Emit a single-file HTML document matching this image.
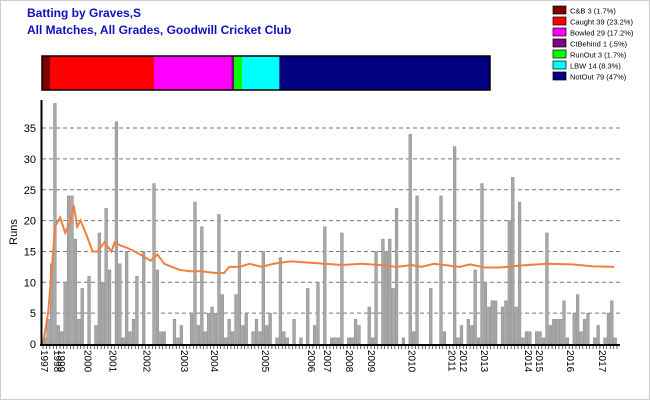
<!DOCTYPE html>
<html><head><meta charset="utf-8"><style>
body{margin:0;background:#fff;font-family:"Liberation Sans",sans-serif}
#c{position:relative;width:650px;height:400px;overflow:hidden}
</style></head><body>
<div id="c">
<svg id="s" width="650" height="400" xmlns="http://www.w3.org/2000/svg" font-family="Liberation Sans, sans-serif">
<rect x="0.5" y="0.5" width="649" height="399" fill="#fff" stroke="#ccc"/>
<text x="27" y="17" font-size="12" font-weight="bold" fill="#1010c0">Batting by Graves,S</text>
<text x="27" y="34" font-size="12" font-weight="bold" fill="#1010c0">All Matches, All Grades, Goodwill Cricket Club</text>
<g id="dism"></g>
<g id="leg"></g>
<g id="grid"></g>
<g id="bars"></g>
<g id="avg"></g>
<g id="axes"></g>
<text transform="translate(17,232) rotate(-90)" text-anchor="middle" font-size="11">Runs</text>
</svg></div>
<script>
const runs=[1,4,13,39,3,2,10,24,24,17,4,9,0,11,0,3,18,10,22,12,0,36,13,1,15,2,4,
11,0,15,0,0,26,12,2,2,0,0,4,1,3,0,0,5,23,3,19,2,5,6,5,21,8,1,4,
2,8,15,3,5,0,2,4,2,15,3,5,0,1,14,2,1,0,4,0,1,0,9,0,3,10,0,19,0,
1,1,1,18,0,1,1,4,3,0,0,6,1,15,0,17,15,17,9,22,0,1,0,34,2,24,0,0,0,
9,0,0,24,2,0,0,32,1,3,0,4,3,12,1,26,10,6,7,7,0,6,7,20,27,6,23,1,2,
2,0,2,2,1,18,3,4,4,4,7,1,0,5,8,2,4,5,0,1,3,0,1,5,7,1];
const avgIdx=[0,1.5,2.7,3.5,5,6.5,8,9,10,11,12.5,14.5,16,18,20,21,22.5,25,28.5,31.5,33.5,35.5,40,43,46,50.5,53,54.5,57.5,60.5,64,67.5,72.5,82.5,87.5,93.5,100.5,103.5,107.9,110.8,114.4,120.5,122,125,129.3,133.7,139.5,147.5,154.8,160.7,167.2];
const avgVal=[0,5,13,19,20.5,18,20,22.5,19,20,18,15,15,16.5,15,16.5,16,15.5,14.5,13.5,14.5,13,12,11.8,11.8,11.5,11.5,12.5,12.5,13,12.5,13,13.4,13,12.8,13,12.7,12.5,12.8,12.5,13,12.6,12.5,12.9,12.4,12.4,12.7,13,12.9,12.6,12.5];
const yTicks=[0,5,10,15,20,25,30,35];
const years=["1997","1998","1999","2000","2001","2002","2003","2004","2005","2006","2007","2008","2009","2010","2011","2012","2013","2014","2015","2016","2017"];
const yearIdx=[0,3.8,5,12.8,20,30,41,49.8,64.7,78.2,82.8,89.3,95.7,107.5,119.2,122.7,128.8,141.7,144.9,154,163.3];
const dismLabels=["C&B 3 (1.7%)","Caught 39 (23.2%)","Bowled 29 (17.2%)","CtBehind 1 (.5%)","RunOut 3 (1.7%)","LBW 14 (8.3%)","NotOut 79 (47%)"];
const dismCounts=[3,39,29,1,3,14,79];
const dismColors=["#800000","#ff0000","#ff00ff","#800080","#00ff00","#00ffff","#000080"];
const NS="http://www.w3.org/2000/svg";
function mk(p,t,a){const e=document.createElementNS(NS,t);for(const k in a)e.setAttribute(k,a[k]);p.appendChild(e);return e;}
const X0=43,X1=617,Y0=344,YS=6.17;
const slot=(X1-X0)/runs.length;
const xS=i=>X0+i*slot;
const yS=v=>Y0-v*YS;
// grid
const g=document.getElementById('grid');
yTicks.forEach(t=>{
 if(t>0){const l=mk(g,'line',{x1:42,x2:620,y1:yS(t),y2:yS(t),stroke:'#777','stroke-dasharray':'4,3','stroke-width':1});
 
 }
 const tx=mk(g,'text',{x:36,y:yS(t)+4,'text-anchor':'end','font-size':11});
 tx.textContent=t;
 
 
});
// bars
const b=document.getElementById('bars');
runs.forEach((v,i)=>{
 if(v<=0)return;
 const r=mk(b,'rect',{x:xS(i)+0.3,y:yS(v),width:slot-0.7,height:v*YS,fill:'#a8a8a8',stroke:'#8a8a8a','stroke-width':0.5});
 
 
});
// avg line
const a=document.getElementById('avg');
const pl=mk(a,'polyline',{points:avgIdx.map((ix,k)=>xS(ix)+','+yS(avgVal[k])).join(' '),fill:'none',stroke:'#f08040','stroke-width':2});


// axes
const ax=document.getElementById('axes');
mk(ax,'line',{x1:41.5,x2:41.5,y1:100,y2:346,stroke:'#000','stroke-width':2});
mk(ax,'line',{x1:40,x2:620,y1:345,y2:345,stroke:'#000','stroke-width':2});
for(let i=0;i<=runs.length;i++){mk(ax,'line',{x1:xS(i),x2:xS(i),y1:346,y2:349,stroke:'#000','stroke-width':0.6});}
years.forEach((y,k)=>{
 const x=xS(yearIdx[k])+1;
 const t=mk(ax,'text',{transform:`translate(${x-3},350) rotate(90)`,'font-size':10});
 t.textContent=y;
 
 
});
// dismissal bar
const d=document.getElementById('dism');
const tot=dismCounts.reduce((s,v)=>s+v,0);
let cx=42;const W=448;
dismCounts.forEach((c,k)=>{
 const w=c/tot*W;
 const r=mk(d,'rect',{x:cx,y:56,width:w,height:34,fill:dismColors[k]});
 
 
 cx+=w;
});
mk(d,'rect',{x:42,y:56,width:W,height:34,fill:'none',stroke:'#000','stroke-width':1.5});
// legend
const lg=document.getElementById('leg');
dismLabels.forEach((lab,k)=>{
 const y=6+k*11;
 const r=mk(lg,'rect',{x:553,y:y,width:13,height:8,fill:dismColors[k],stroke:'#000','stroke-width':0.7});
 
 
 const t=mk(lg,'text',{x:570,y:y+7.5,'font-size':7.5});
 t.textContent=lab;
 
 
});
</script>
</body></html>
